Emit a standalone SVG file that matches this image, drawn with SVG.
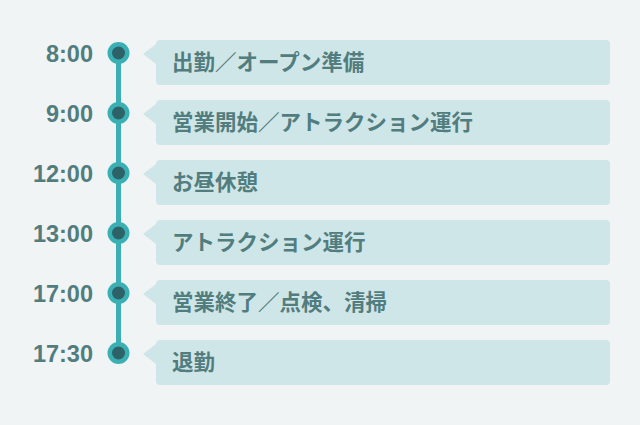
<svg xmlns="http://www.w3.org/2000/svg" width="640" height="425" viewBox="0 0 640 425">
<defs>
<style>
.time{font-family:"Liberation Sans",Arial,sans-serif;font-weight:bold;font-size:23.5px;fill:#527d7e;text-anchor:end}
.lbl{font-family:"Noto Sans CJK JP","Liberation Sans",sans-serif;font-weight:bold;font-size:21.5px;fill:#527d7e}
.box{fill:#cfe6e8}
.outer{fill:#3bb0b4}
.inner{fill:#2d6368}
</style>
</defs>
<rect width="640" height="425" fill="#f0f4f5"/>
<g id="connectors">
<line x1="118.5" y1="53" x2="118.5" y2="353" stroke="#3bb0b4" stroke-width="5"/>
</g>
<g id="n1">
<text class="time" x="93" y="62">8:00</text>
<circle class="outer" cx="118.5" cy="53" r="11"/><circle class="inner" cx="118.5" cy="53" r="6.5"/>
<path class="box" d="M160,40H606a4,4 0 0 1 4,4V81a4,4 0 0 1-4,4H160a4,4 0 0 1-4-4V64L143,54L156,44A4,4 0 0 1 160,40Z"/>
<text class="lbl" x="172" y="70">出勤／オープン準備</text>
</g>
<g id="n2">
<text class="time" x="93" y="122">9:00</text>
<circle class="outer" cx="118.5" cy="113" r="11"/><circle class="inner" cx="118.5" cy="113" r="6.5"/>
<path class="box" d="M160,100H606a4,4 0 0 1 4,4V141a4,4 0 0 1-4,4H160a4,4 0 0 1-4-4V124L143,114L156,104A4,4 0 0 1 160,100Z"/>
<text class="lbl" x="172" y="130">営業開始／アトラクション運行</text>
</g>
<g id="n3">
<text class="time" x="93" y="182">12:00</text>
<circle class="outer" cx="118.5" cy="173" r="11"/><circle class="inner" cx="118.5" cy="173" r="6.5"/>
<path class="box" d="M160,160H606a4,4 0 0 1 4,4V201a4,4 0 0 1-4,4H160a4,4 0 0 1-4-4V184L143,174L156,164A4,4 0 0 1 160,160Z"/>
<text class="lbl" x="172" y="190">お昼休憩</text>
</g>
<g id="n4">
<text class="time" x="93" y="242">13:00</text>
<circle class="outer" cx="118.5" cy="233" r="11"/><circle class="inner" cx="118.5" cy="233" r="6.5"/>
<path class="box" d="M160,220H606a4,4 0 0 1 4,4V261a4,4 0 0 1-4,4H160a4,4 0 0 1-4-4V244L143,234L156,224A4,4 0 0 1 160,220Z"/>
<text class="lbl" x="172" y="250">アトラクション運行</text>
</g>
<g id="n5">
<text class="time" x="93" y="302">17:00</text>
<circle class="outer" cx="118.5" cy="293" r="11"/><circle class="inner" cx="118.5" cy="293" r="6.5"/>
<path class="box" d="M160,280H606a4,4 0 0 1 4,4V321a4,4 0 0 1-4,4H160a4,4 0 0 1-4-4V304L143,294L156,284A4,4 0 0 1 160,280Z"/>
<text class="lbl" x="172" y="310">営業終了／点検、清掃</text>
</g>
<g id="n6">
<text class="time" x="93" y="362">17:30</text>
<circle class="outer" cx="118.5" cy="353" r="11"/><circle class="inner" cx="118.5" cy="353" r="6.5"/>
<path class="box" d="M160,340H606a4,4 0 0 1 4,4V381a4,4 0 0 1-4,4H160a4,4 0 0 1-4-4V364L143,354L156,344A4,4 0 0 1 160,340Z"/>
<text class="lbl" x="172" y="370">退勤</text>
</g>
</svg>
